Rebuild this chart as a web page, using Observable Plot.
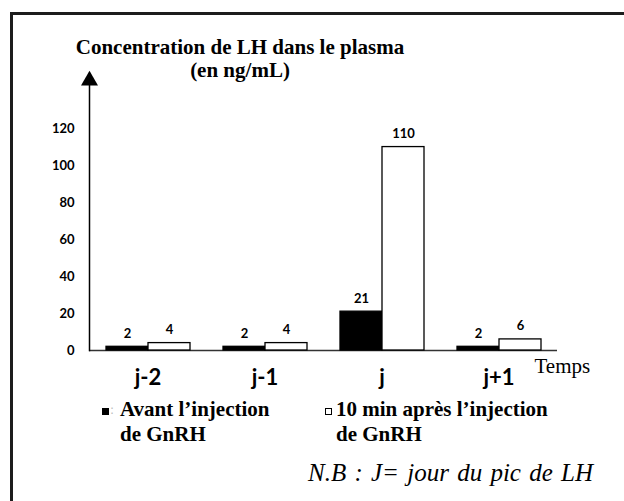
<!DOCTYPE html>
<html>
<head>
<meta charset="utf-8">
<script src="https://cdn.jsdelivr.net/npm/d3@7"></script>
<script src="https://cdn.jsdelivr.net/npm/@observablehq/plot@0.6"></script>
<style>
  html, body { margin: 0; padding: 0; background: #fff; }
  body { width: 624px; height: 501px; overflow: hidden; position: relative; }
  #border { position: absolute; left: 10px; top: 12px; width: 800px; height: 700px;
            border: 3px solid #1c1c1c; box-sizing: border-box; }
  #title { position: absolute; left: 40px; width: 400px; top: 36px; text-align: center;
           font-family: "Liberation Serif", serif; font-weight: bold; font-size: 21px; line-height: 23px; color: #000; }
  #chart { position: absolute; left: 0; top: 0; }
  .leg { position: absolute; font-family: "Liberation Serif", serif; font-weight: bold;
         font-size: 21px; line-height: 25px; color: #000; }
  .sw { position: absolute; width: 7px; height: 7px; box-sizing: border-box; border: 1px solid #000; }
  #nb { position: absolute; right: 31px; top: 459px; font-family: "Liberation Serif", serif;
        font-style: italic; font-size: 25px; word-spacing: 2px; color: #000; }
</style>
</head>
<body>
<div id="border"></div>
<div id="title"></div>
<div id="chart"></div>
<div class="sw" style="left:102px; top:408px; background:#000"></div>
<div class="leg" style="left:110px; top:398px; color:#bbb; font-weight:normal; font-family:'DejaVu Sans'; font-size:12px;">:</div>
<div class="leg" id="leg1" style="left:120px; top:397px; width:160px;"></div>
<div class="sw" style="left:325px; top:408px; background:#fff"></div>
<div class="leg" id="leg2" style="left:336px; top:397px; width:222px;"></div>
<div id="nb"></div>
<script>
const jours = ["j-2", "j-1", "j", "j+1"];
const avant = [2, 2, 21, 2];
const apres = [4, 4, 110, 6];
const yTicks = [0, 20, 40, 60, 80, 100, 120];
const seriesKeys = ["avant", "apres"];
const seriesNames = ["Avant l’injection de GnRH", "10 min après l’injection de GnRH"];
const titleLines = ["Concentration de LH dans le plasma", "(en ng/mL)"];
const xLabel = "Temps";
const note = "N.B : J= jour du pic de LH";

const data = jours.flatMap((j, i) => [
  {jour: j, serie: "avant", valeur: avant[i]},
  {jour: j, serie: "apres", valeur: apres[i]}
]);

document.getElementById("title").innerHTML = titleLines.join("<br>");
document.getElementById("leg1").textContent = seriesNames[0];
document.getElementById("leg2").textContent = seriesNames[1];
document.getElementById("nb").textContent = note;

const sans = "Lato, 'Open Sans', sans-serif";

const chart = Plot.plot({
  width: 624,
  height: 400,
  marginLeft: 88,
  marginRight: 66,
  marginTop: 80,
  marginBottom: 50,
  style: {background: "transparent", overflow: "visible", fontFamily: sans, color: "#000"},
  fx: {domain: jours, padding: 0, axis: null},
  x: {domain: seriesKeys, paddingInner: 0, paddingOuter: 0.385, axis: null},
  y: {domain: [0, 146], axis: null},
  color: {domain: seriesKeys, range: ["#000", "#fff"]},
  marks: [
    Plot.ruleY([0], {stroke: "#333", strokeWidth: 1.5}),
    Plot.barY(data, {fx: "jour", x: "serie", y: "valeur", fill: "serie", stroke: "#000", strokeWidth: 1.3}),
    Plot.text(data, {fx: "jour", x: "serie", y: "valeur", text: d => String(d.valeur),
      dy: -9, lineAnchor: "bottom", fontSize: 13, fontWeight: "bold", fill: "#000"}),
    Plot.axisY({ticks: yTicks, tickSize: 0, tickPadding: 15, label: null,
      fontSize: 13, fontWeight: "bold"}),
    Plot.axisFx({anchor: "bottom", tickSize: 0, tickPadding: 19, label: null,
      fontSize: 22, fontWeight: "bold"}),
    Plot.frame({anchor: "left", facetAnchor: "left", stroke: "#000", strokeWidth: 1.5}),
    Plot.dot([0], {frameAnchor: "top-left", facetAnchor: "left", symbol: "triangle",
      r: 6.3, fill: "#000", stroke: "none"}),
    Plot.text([xLabel], {text: d => d, frameAnchor: "bottom-right", facetAnchor: "right",
      textAnchor: "start", lineAnchor: "middle", dx: -23, dy: 16,
      fontFamily: "'Liberation Serif', serif", fontSize: 21, fill: "#000"})
  ]
});
document.getElementById("chart").appendChild(chart);
</script>
</body>
</html>
